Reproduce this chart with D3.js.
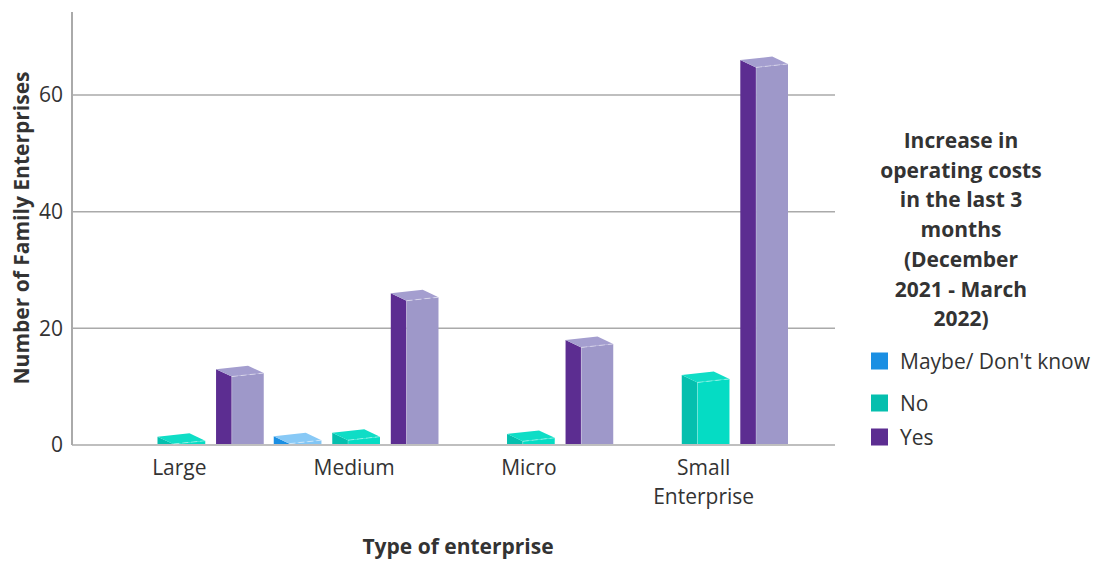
<!DOCTYPE html>
<html>
<head>
<meta charset="utf-8">
<script src="https://cdn.jsdelivr.net/npm/d3@7"></script>
<style>
  html, body { margin: 0; padding: 0; background: #fff; }
  svg { display: block; font-family: "Open Sans", "Noto Sans", sans-serif; }
</style>
</head>
<body>
<svg id="chart" width="1103" height="561"></svg>
<script>
// ---- data ----
const categories = ["Large", "Medium", "Micro", "Small Enterprise"];
const seriesNames = ["Maybe/ Don't know", "No", "Yes"];
const maybeValues = [null, 1.5, null, null];
const noValues = [1.4, 2.1, 1.9, 12];
const yesValues = [13, 26, 18, 66];
const yTicks = [0, 20, 40, 60];
const legendTitleLines = ["Increase in", "operating costs", "in the last 3", "months", "(December", "2021 - March", "2022)"];
const yTitle = "Number of Family Enterprises";
const xTitle = "Type of enterprise";

// ---- styles ----
const seriesColors = {
  "Maybe/ Don't know": { side: "#1a8fe3", front: "#82c6f5", top: "#88c9f6" },
  "No": { side: "#05bfae", front: "#05dcc4", top: "#0fddc6" },
  "Yes": { side: "#5c2d91", front: "#9e98c9", top: "#a49ecf" }
};
const FS = 21;

const svg = d3.select("#chart");
const valuesBySeries = [maybeValues, noValues, yesValues];

const x = d3.scaleBand().domain(categories).range([94, 793]).paddingInner(0).paddingOuter(0);
const xs = d3.scaleBand().domain(seriesNames).range([0, x.bandwidth()]).paddingInner(0.185).paddingOuter(0.0855);
const y = d3.scaleLinear().domain([0, 74.23]).range([445, 12]);

const gridLeft = 72, gridRight = 835;

// gridlines
svg.append("g").selectAll("line").data(yTicks).join("line")
  .attr("x1", gridLeft).attr("x2", gridRight)
  .attr("y1", d => y(d)).attr("y2", d => y(d))
  .attr("stroke", "#aaaaaa").attr("stroke-width", 1.5);

// y axis line
svg.append("line").attr("x1", gridLeft).attr("x2", gridLeft)
  .attr("y1", y.range()[1]).attr("y2", y(0))
  .attr("stroke", "#aaaaaa").attr("stroke-width", 2);

// y tick labels
const yAxis = d3.axisLeft(y).tickValues(yTicks).tickSize(0).tickPadding(9).tickFormat(d3.format("d"));
const yG = svg.append("g").attr("transform", `translate(${gridLeft},0)`).call(yAxis);
yG.select(".domain").remove();
yG.selectAll("text").attr("font-size", FS).attr("fill", "#333").attr("font-family", "Open Sans, sans-serif");

// bars
const data = [];
categories.forEach((c, i) => {
  seriesNames.forEach((s, j) => {
    const v = valuesBySeries[j][i];
    if (v != null) data.push({ c, s, v });
  });
});

const sideW = xs.bandwidth() * 0.33;
const frontW = xs.bandwidth() - sideW;
const depthDY = 7.4, slantDY = 3.5;
const base = y(0) - 1;

const bars = svg.append("g").selectAll("g").data(data).join("g");
bars.each(function(d) {
  const g = d3.select(this);
  const x0 = x(d.c) + xs(d.s);
  const yt = y(d.v);
  const L = [x0, yt];
  const F = [x0 + sideW, Math.min(yt + depthDY, base)];
  const R = [x0 + sideW + frontW, Math.min(yt + depthDY - slantDY, base)];
  const B = [x0 + frontW, yt - slantDY];
  const col = seriesColors[d.s];
  g.append("path").attr("d", `M${L}L${F}L${F[0]},${base}L${L[0]},${base}Z`).attr("fill", col.side);
  g.append("path").attr("d", `M${F}L${R}L${R[0]},${base}L${F[0]},${base}Z`).attr("fill", col.front);
  g.append("path").attr("d", `M${L}L${B}L${R}L${F}Z`).attr("fill", col.top);
  g.append("line").attr("x1", F[0]).attr("y1", F[1]).attr("x2", R[0]).attr("y2", R[1])
    .attr("stroke", "#ffffff").attr("stroke-opacity", 0.45).attr("stroke-width", 1).attr("stroke-dasharray", "6,3");
  g.append("line").attr("x1", F[0]).attr("y1", F[1]).attr("x2", F[0]).attr("y2", base)
    .attr("stroke", "#ffffff").attr("stroke-opacity", 0.25).attr("stroke-width", 1);
});

// x labels
const xLab = svg.append("g").selectAll("text").data(categories).join("text")
  .attr("x", d => x(d) + x.bandwidth() / 2 - 2)
  .attr("y", 475)
  .attr("text-anchor", "middle")
  .attr("font-size", FS).attr("fill", "#333");
xLab.each(function(d) {
  const words = d.split(" ");
  const t = d3.select(this);
  words.forEach((w, i) => {
    t.append("tspan").attr("x", t.attr("x")).attr("dy", i === 0 ? 0 : 29).text(w);
  });
});

// axis titles
svg.append("text").attr("transform", "translate(29,228) rotate(-90)")
  .attr("text-anchor", "middle").attr("font-size", FS).attr("font-weight", "bold").attr("fill", "#333")
  .text(yTitle);
svg.append("text").attr("x", 458).attr("y", 554)
  .attr("text-anchor", "middle").attr("font-size", FS).attr("font-weight", "bold").attr("fill", "#333")
  .text(xTitle);

// legend title
svg.append("g").selectAll("text").data(legendTitleLines).join("text")
  .attr("x", 961).attr("y", (d, i) => 148 + i * 29.7)
  .attr("text-anchor", "middle").attr("font-size", FS).attr("font-weight", "bold").attr("fill", "#333")
  .text(d => d);

// legend items
const legendY = [361, 403, 437];
const leg = svg.append("g").selectAll("g").data(seriesNames).join("g")
  .attr("transform", (d, i) => `translate(871,${legendY[i]})`);
leg.append("rect").attr("x", 0).attr("y", -8.5).attr("width", 17).attr("height", 17)
  .attr("fill", d => seriesColors[d].side);
leg.append("text").attr("x", 29).attr("y", 7.5).attr("font-size", FS).attr("fill", "#333").text(d => d);
</script>
</body>
</html>
